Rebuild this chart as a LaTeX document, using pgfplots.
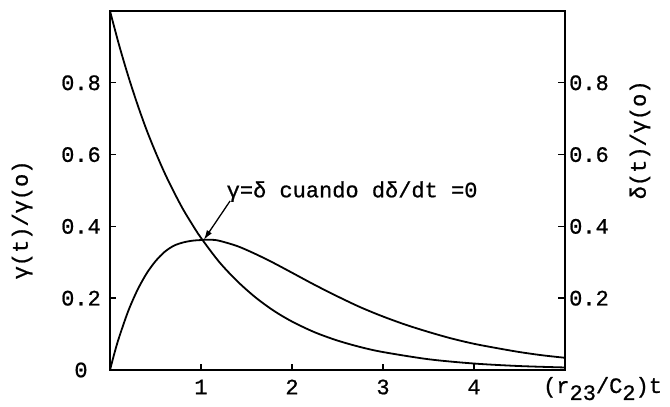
\documentclass[border=0pt]{standalone}
\usepackage{fontspec}
\setmainfont{Liberation Mono}[FakeBold=0.8]
\usepackage{pgfplots}
\pgfplotsset{compat=1.18}
\usetikzlibrary{arrows.meta}

% gamma(t)/gamma(o) and delta(t)/gamma(o) against (r23/C2)t
\pgfplotstableread{
t     g
0     1.000
0.1   0.905
0.2   0.819
0.3   0.741
0.4   0.670
0.5   0.607
0.6   0.549
0.7   0.497
0.8   0.449
0.9   0.407
1.0   0.368
1.2   0.301
1.4   0.247
1.6   0.202
1.8   0.165
2.0   0.135
2.25  0.105
2.5   0.082
2.75  0.064
3.0   0.050
3.5   0.030
4.0   0.018
4.5   0.011
5.0   0.007
}\gammadata

\pgfplotstableread{
t     d
0     0.000
0.05  0.048
0.1   0.091
0.2   0.164
0.3   0.222
0.4   0.268
0.5   0.303
0.6   0.329
0.7   0.346
0.8   0.355
0.9   0.360
1.0   0.362
1.1   0.363
1.2   0.360
1.4   0.345
1.6   0.323
1.8   0.298
2.0   0.271
2.25  0.237
2.5   0.205
2.75  0.175
3.0   0.149
3.25  0.126
3.5   0.106
3.75  0.088
4.0   0.073
4.25  0.061
4.5   0.050
4.75  0.041
5.0   0.034
}\deltadata

\newcommand{\tw}{\fontsize{22}{24}\selectfont}

\begin{document}
\begin{tikzpicture}
\begin{axis}[
  scale only axis,
  width=455pt, height=359pt,
  xmin=0, xmax=5, ymin=0, ymax=1,
  clip=false,
  axis line style={line width=1.4pt},
  tick style={line width=1.4pt, black},
  tick align=inside,
  major tick length=6pt,
  xtick pos=bottom, ytick pos=left,
  xtick={1,2,3,4},
  xticklabels={1,2,3,4},
  ytick={0,0.2,0.4,0.6,0.8},
  yticklabels={0,0.2,0.4,0.6,0.8},
  tick label style={font=\tw, inner sep=0pt},
  xticklabel style={anchor=center, yshift=-17pt},
  yticklabel style={anchor=center, xshift=-29pt},
]
\addplot[line width=1.8pt, smooth, tension=0.5] table[x=t, y=g] {\gammadata};
\addplot[line width=1.8pt, smooth, tension=0.5] table[x=t, y=d] {\deltadata};

% annotation at the crossing
\draw[line width=1.3pt, -{Latex[length=10pt,width=6pt]}]
  (axis cs:1.32,0.471) -- (axis cs:1.03,0.362);
\node[anchor=west, inner sep=0pt, font=\tw] at (axis cs:1.28,0.497)
  {γ=δ cuando dδ/dt =0};

% axis titles
\node[rotate=90, font=\tw, inner sep=0pt] at (axis cs:-0.967,0.418)
  {γ(t)/γ(o)};
\node[rotate=90, font=\tw, inner sep=0pt] at (axis cs:5.824,0.641)
  {δ(t)/γ(o)};
\node[anchor=base west, font=\tw, inner sep=0pt] at (axis cs:4.758,-0.064)
  {(r\raisebox{-7pt}{23}/C\raisebox{-7pt}{2})t};
\end{axis}

% right-hand scale
\begin{axis}[
  scale only axis,
  width=455pt, height=359pt,
  xmin=0, xmax=5, ymin=0, ymax=1,
  axis x line=none,
  axis y line*=right,
  axis line style={line width=1.4pt, -},
  tick style={line width=1.4pt, black},
  tick align=inside,
  major tick length=7pt,
  ytick={0.2,0.4,0.6,0.8},
  yticklabels={0.2,0.4,0.6,0.8},
  tick label style={font=\tw, inner sep=0pt},
  yticklabel style={anchor=center, xshift=24pt},
]
\end{axis}

\pgfresetboundingbox
\path[use as bounding box] (current axis.south west) ++(-110pt,-36pt)
  rectangle ([shift={(105pt,11pt)}]current axis.north east);
\end{tikzpicture}
\end{document}
